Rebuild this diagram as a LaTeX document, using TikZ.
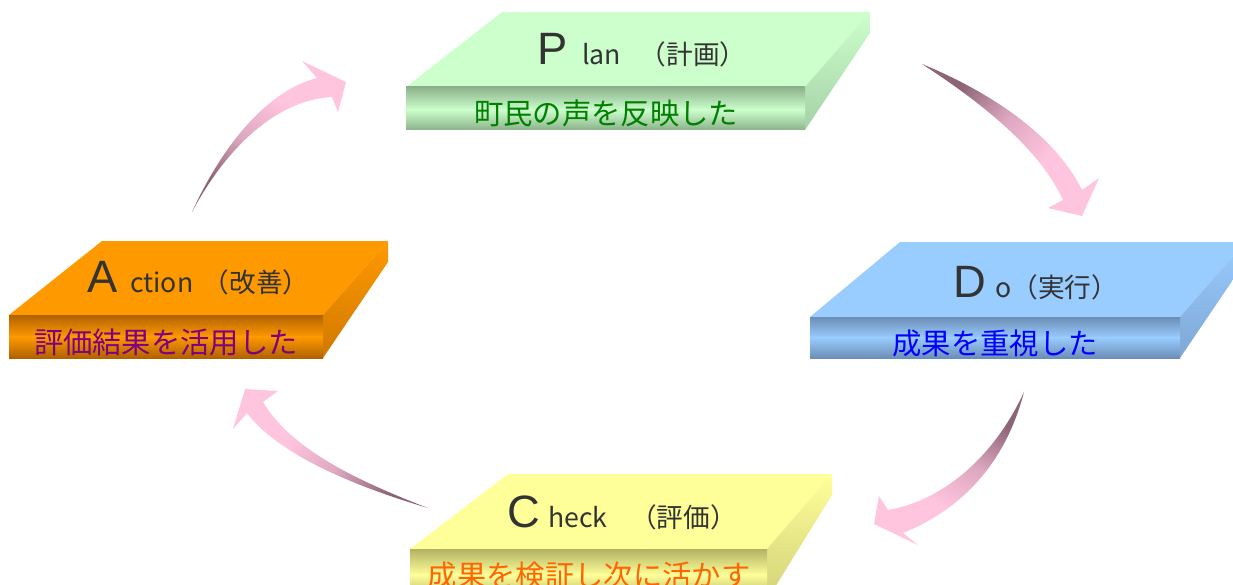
\documentclass[tikz,border=0pt]{standalone}
\usepackage{fontspec}
\newfontfamily\jpfont{Noto Sans CJK JP}
\newfontfamily\capfont{Liberation Sans}
\definecolor{planTop}{RGB}{204,255,204}
\definecolor{planDark}{RGB}{140,178,140}
\definecolor{actTop}{RGB}{255,153,0}
\definecolor{actDark}{RGB}{176,98,0}
\definecolor{doTop}{RGB}{153,204,255}
\definecolor{doDark}{RGB}{108,142,182}
\definecolor{chkTop}{RGB}{255,255,153}
\definecolor{chkDark}{RGB}{178,178,100}
\definecolor{arrPink}{RGB}{255,196,222}
\definecolor{arrMauve}{RGB}{140,100,118}
\definecolor{headGray}{RGB}{51,51,51}
\pgfdeclarehorizontalshading{arrowfade}{100bp}{color(0bp)=(arrMauve); color(28bp)=(arrMauve); color(45bp)=(arrPink!70!arrMauve); color(62bp)=(arrPink); color(100bp)=(arrPink)}

\begin{document}
\begin{tikzpicture}[x=0.75pt,y=0.75pt,yscale=-1,xscale=1,
	initial/.style={anchor=base west,inner sep=0pt,text=headGray,font={\capfont\fontsize{34}{34}\selectfont}},
	head/.style={anchor=base west,inner sep=0pt,text=headGray,font={\jpfont\fontsize{20}{20}\selectfont}},
	sub/.style={inner sep=0pt,font={\jpfont\fontsize{22}{22}\selectfont}},
	cycarrow/.style={shading=arrowfade}]
		\useasboundingbox (0,0) rectangle (1233,585);
		\clip (0,0) rectangle (1233,585);
		% Plan
		\fill [planTop] (502,12) -- (870,12) -- (805,87) -- (406,87) -- cycle ;
		\shade [top color=planTop, bottom color=planDark!60!planTop] (805,87) -- (870,12) -- (870,33) -- (805,130) -- cycle ;
		\shade [top color=planDark, bottom color=planTop] (406,87) rectangle (805,110) ;
		\shade [top color=planTop, bottom color=planDark] (406,109.5) rectangle (805,130) ;
		% Action
		\fill [actTop] (102,241) -- (388,241) -- (323,315) -- (9,315) -- cycle ;
		\shade [top color=actTop, bottom color=actDark!60!actTop] (323,315) -- (388,241) -- (388,262) -- (323,358) -- cycle ;
		\shade [top color=actDark, bottom color=actTop] (9,315) rectangle (323,337) ;
		\shade [top color=actTop, bottom color=actDark] (9,336.5) rectangle (323,358) ;
		% Do
		\fill [doTop] (900,242) -- (1245,242) -- (1180,317) -- (810,317) -- cycle ;
		\shade [top color=doTop, bottom color=doDark!60!doTop] (1180,317) -- (1245,242) -- (1245,262) -- (1180,358) -- cycle ;
		\shade [top color=doDark, bottom color=doTop] (810,317) rectangle (1180,338) ;
		\shade [top color=doTop, bottom color=doDark] (810,337.5) rectangle (1180,358) ;
		% Check
		\fill [chkTop] (508,474) -- (832,474) -- (767,549) -- (410,549) -- cycle ;
		\shade [top color=chkTop, bottom color=chkDark!60!chkTop] (767,549) -- (832,474) -- (832,495) -- (767,600) -- cycle ;
		\shade [top color=chkDark, bottom color=chkTop] (410,549) rectangle (767,575) ;
		\shade [top color=chkTop, bottom color=chkDark] (410,574.5) rectangle (767,600) ;
		% titles
		\node (planP) at (537,65) [initial] {P};
		\node (planHead) at (582,65) [head] {lan\hspace{0.7em}（計画）};
		\node (actA) at (87,292) [initial] {A};
		\node (actHead) at (130,292) [head] {ction\hspace{0.35em}（改善）};
		\node (doD) at (953,297) [initial] {D};
		\node (doHead) at (995,297) [head] {o（実行）};
		\node (chkC) at (507,527) [initial] {C};
		\node (chkHead) at (548,527) [head] {heck\hspace{0.85em}（評価）};
		% subtitles
		\node (planSub) at (606,113) [sub, text={rgb,255:red,0;green,128;blue,0}] {町民の声を反映した};
		\node (actSub) at (166,342) [sub, text={rgb,255:red,128;green,0;blue,128}] {評価結果を活用した};
		\node (doSub) at (995,343) [sub, text={rgb,255:red,0;green,0;blue,255}] {成果を重視した};
		\node (chkSub) at (589,575) [sub, text={rgb,255:red,255;green,102;blue,0}] {成果を検証し次に活かす};
		% arrows
		\shade [cycarrow, shading angle=60] (192,212) .. controls (225,140) and (270,90) .. (317,78) -- (302,61) -- (346,82) -- (338,112) -- (332,97) .. controls (275,100) and (225,150) .. (192,212) -- cycle ;
		\shade [cycarrow, shading angle=-40] (922,64) .. controls (990,92) and (1055,135) .. (1082,190) -- (1099,178) -- (1082,216) -- (1048,208) -- (1063,200) .. controls (1040,150) and (985,105) .. (922,64) -- cycle ;
		\shade [cycarrow, shading angle=-120] (1024,392) .. controls (995,455) and (945,500) .. (888,510) -- (879,496) -- (874,524) -- (918,545) -- (903,533) .. controls (960,510) and (1005,465) .. (1024,392) -- cycle ;
		\shade [cycarrow, shading angle=150] (428,508) .. controls (340,482) and (275,450) .. (247,413) -- (233,429) -- (245,389) -- (278,391) -- (263,402) .. controls (290,447) and (350,478) .. (428,508) -- cycle ;
	\end{tikzpicture}
\end{document}
